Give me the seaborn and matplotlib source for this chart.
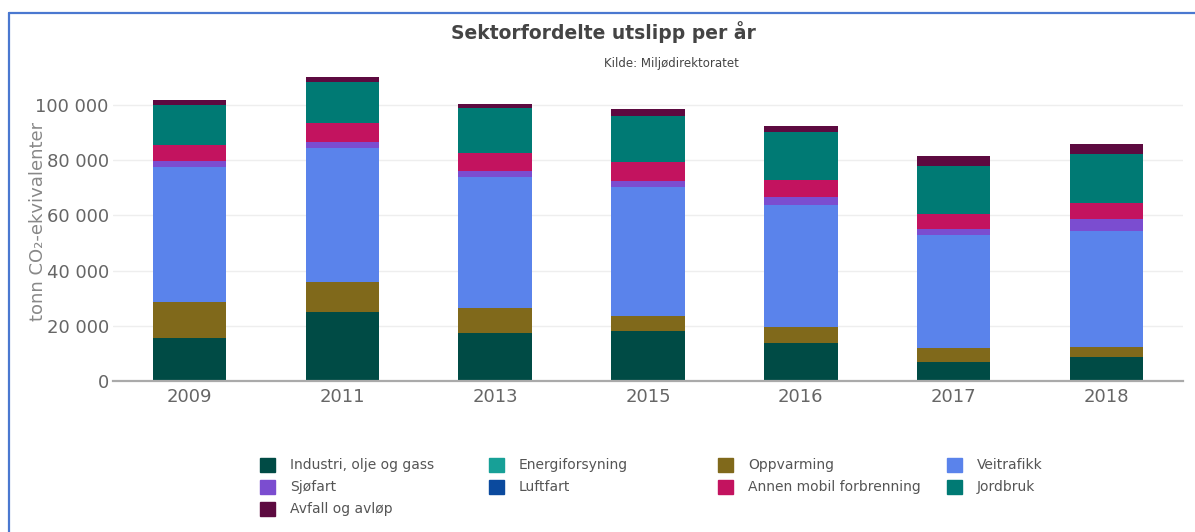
import numpy as np
import pandas as pd
import seaborn as sns
import matplotlib.pyplot as plt
from matplotlib.ticker import FuncFormatter
from matplotlib.patches import Rectangle
from matplotlib.lines import Line2D

years = ['2009', '2011', '2013', '2015', '2016', '2017', '2018']
sectors = ['Industri, olje og gass', 'Energiforsyning', 'Oppvarming', 'Veitrafikk',
           'Sjøfart', 'Luftfart', 'Annen mobil forbrenning', 'Jordbruk', 'Avfall og avløp']

# tonn CO2-ekvivalenter per sektor og år
industri = [15500, 24900, 17300, 18100, 13650, 7000, 8550]
energiforsyning = [0, 0, 0, 0, 0, 0, 0]
oppvarming = [13200, 11100, 9300, 5550, 6000, 5100, 3700]
veitrafikk = [48700, 48300, 47200, 46500, 44100, 40700, 42300]
sjofart = [2400, 2400, 2300, 2400, 2900, 2400, 4250]
luftfart = [0, 0, 0, 0, 0, 0, 0]
annen_mobil = [5700, 6650, 6400, 6750, 6050, 5300, 5900]
jordbruk = [14500, 15100, 16300, 16800, 17500, 17600, 17650]
avfall = [1800, 1800, 1600, 2650, 2200, 3600, 3650]

colors = ['#004b45', '#17a097', '#80691b', '#5a83eb', '#7b4dd0',
          '#0b4a9e', '#c3135f', '#007a74', '#5d0a40']

W, H = 1195, 532

sns.set_theme(style='white')
plt.rcParams['font.family'] = ['DejaVu Sans']

df = pd.DataFrame(dict(zip(sectors, [industri, energiforsyning, oppvarming, veitrafikk,
                                     sjofart, luftfart, annen_mobil, jordbruk, avfall])),
                  index=years)
cum = df.cumsum(axis=1)

fig = plt.figure(figsize=(W / 100, H / 100), dpi=100)
ax = fig.add_axes([113 / W, 1 - 381 / H, 1070 / W, 320 / H])

# stacked bars: draw cumulative totals from the top layer downwards
for sector, color in reversed(list(zip(sectors, colors))):
    sns.barplot(x=years, y=cum[sector].values, color=color, width=0.48,
                saturation=1, linewidth=0, errorbar=None, ax=ax)

ax.set_ylim(0, 116000)
ax.set_xlim(-0.5, 6.5)
ax.set_yticks(np.arange(0, 100001, 20000))
ax.yaxis.set_major_formatter(FuncFormatter(lambda v, p: f'{v:,.0f}'.replace(',', ' ')))
ax.yaxis.grid(True, color='#eeeeee', lw=1)
ax.set_axisbelow(True)
for s in ['top', 'right', 'left']:
    ax.spines[s].set_visible(False)
ax.spines['bottom'].set_color('#aaaaaa')
ax.spines['bottom'].set_linewidth(1.6)
ax.tick_params(axis='both', length=0, labelsize=13, labelcolor='#666666')
ax.tick_params(axis='y', pad=3)
ax.tick_params(axis='x', pad=5)
ax.set_xlabel('')
ax.set_ylabel('tonn CO₂-ekvivalenter', fontsize=13, color='#888888')
ax.yaxis.set_label_coords(-0.062, 0.5)

fig.text(0.505, 1 - 32 / H, 'Sektorfordelte utslipp per år', ha='center', va='center',
         fontsize=13.5, fontweight='bold', color='#444444')
fig.text(604 / W, 1 - 64 / H, 'Kilde: Miljødirektoratet', ha='left', va='center',
         fontsize=8.5, color='#444444')

# legend, row-wise in four columns
for i, (s, c) in enumerate(zip(sectors, colors)):
    row, col = divmod(i, 4)
    x0 = 260 + col * 229
    yc = 465 + row * 22
    fig.patches.append(Rectangle((x0 / W, 1 - (yc + 7) / H), 15 / W, 14 / H,
                                 transform=fig.transFigure, color=c))
    fig.text((x0 + 30) / W, 1 - yc / H, s, ha='left', va='center', fontsize=10, color='#555555')

# blue frame
fig.add_artist(Line2D([9 / W, 9 / W], [0, 1 - 13 / H], color='#4a78d0', lw=1.6))
fig.add_artist(Line2D([9 / W, 1], [1 - 13 / H, 1 - 13 / H], color='#4a78d0', lw=1.6))

fig.savefig('out.png', dpi=100)
